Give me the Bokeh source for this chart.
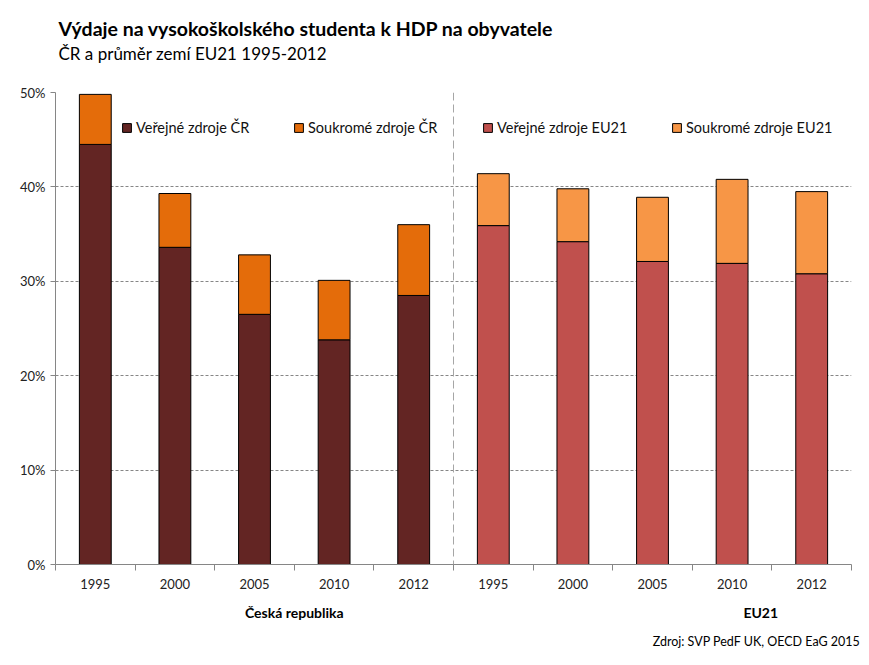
from bokeh.plotting import figure
from bokeh.models import (ColumnDataSource, Range1d, FixedTicker, PrintfTickFormatter,
                          Legend, LegendItem, Span, Title, LinearAxis)
from bokeh.embed import file_html
from bokeh.resources import INLINE

years = ["1995", "2000", "2005", "2010", "2012"]
cr_public = [44.5, 33.6, 26.5, 23.8, 28.5]
cr_private = [5.3, 5.7, 6.3, 6.3, 7.5]
eu_public = [35.9, 34.2, 32.1, 31.9, 30.8]
eu_private = [5.5, 5.6, 6.8, 8.9, 8.7]
groups = ["Česká republika", "EU21"]
group_pos = [3.0, 8.86]
legend_labels = ["Veřejné zdroje ČR", "Soukromé zdroje ČR", "Veřejné zdroje EU21", "Soukromé zdroje EU21"]
y_ticks = [0, 10, 20, 30, 40, 50]

FONT = "Lato"
n = len(years)
cr_x = [i + 0.5 for i in range(n)]
eu_x = [n + i + 0.5 for i in range(n)]

cr_src = ColumnDataSource(dict(x=cr_x, public=cr_public, private=cr_private))
eu_src = ColumnDataSource(dict(x=eu_x, public=eu_public, private=eu_private))

p = figure(width=861, height=657, output_backend="svg", toolbar_location=None,
           x_range=Range1d(0, 2 * n), y_range=Range1d(0, 50),
           min_border_left=55, min_border_right=10, min_border_top=92, min_border_bottom=93)
p.outline_line_color = None
p.background_fill_color = "white"

cr_r = p.vbar_stack(["public", "private"], x="x", width=0.4, source=cr_src,
                    color=["#632523", "#E46C0A"], line_color="black", line_width=1)
eu_r = p.vbar_stack(["public", "private"], x="x", width=0.4, source=eu_src,
                    color=["#C0504D", "#F79646"], line_color="black", line_width=1)
for r in cr_r + eu_r:
    r.glyph.line_color = "black"

# axes
p.xaxis.ticker = FixedTicker(ticks=cr_x + eu_x, minor_ticks=list(range(0, 2 * n + 1)))
p.xaxis.major_label_overrides = {x: y for x, y in zip(cr_x + eu_x, years + years)}
p.xaxis.major_tick_out = 0
p.xaxis.major_tick_in = 0
p.xaxis.minor_tick_out = 6
p.xaxis.minor_tick_in = 0
p.xaxis.minor_tick_line_color = "#868686"
p.xaxis.axis_line_color = "#868686"
p.xaxis.major_label_standoff = 8
p.xaxis.major_label_text_font = FONT
p.xaxis.major_label_text_font_size = "13px"
p.xaxis.major_label_text_color = "#222222"

p.yaxis.ticker = FixedTicker(ticks=y_ticks)
p.yaxis.formatter = PrintfTickFormatter(format="%d%%")
p.yaxis.major_tick_out = 5
p.yaxis.major_tick_in = 0
p.yaxis.minor_tick_line_color = None
p.yaxis.major_tick_line_color = "#868686"
p.yaxis.axis_line_color = "#868686"
p.yaxis.major_label_standoff = 5
p.yaxis.major_label_text_font = FONT
p.yaxis.major_label_text_font_size = "13px"
p.yaxis.major_label_text_color = "#222222"

# group labels as an extra axis below
gaxis = LinearAxis(ticker=FixedTicker(ticks=group_pos),
                   major_label_overrides={x: g for x, g in zip(group_pos, groups)},
                   axis_line_color=None, major_tick_line_color=None,
                   minor_tick_line_color=None, major_label_standoff=6,
                   major_label_text_font=FONT, major_label_text_font_size="14px",
                   major_label_text_font_style="bold", major_label_text_color="#000000")
p.add_layout(gaxis, "below")

p.xgrid.grid_line_color = None
p.ygrid.grid_line_color = "#868686"
p.ygrid.grid_line_dash = "3 2"

p.add_layout(Span(location=n, dimension="height", line_color="#A6A6A6",
                  line_dash="8 4", line_width=1))

# legends (one per item)
leg_x = [66, 238, 427, 616]
renderers = [cr_r[0], cr_r[1], eu_r[0], eu_r[1]]
for lx, lab, r in zip(leg_x, legend_labels, renderers):
    leg = Legend(items=[LegendItem(label=lab, renderers=[r])], location=(lx, 427),
                 orientation="horizontal", padding=0, margin=0, spacing=0,
                 glyph_width=11, glyph_height=11, label_standoff=4, label_height=20,
                 label_text_font=FONT, label_text_font_size="14.5px",
                 label_text_color="#111111",
                 background_fill_alpha=0, border_line_color=None)
    p.add_layout(leg)

# titles (spacer nearest the frame, then subtitle, then main title)
p.add_layout(Title(text=" ", standoff=15, text_font=FONT, text_font_size="10px"), "above")
p.add_layout(Title(text="ČR a průměr zemí EU21 1995-2012", align="left", offset=3,
                   standoff=0, text_font=FONT, text_font_size="17px",
                   text_font_style="normal", text_color="#000000"), "above")
p.add_layout(Title(text="Výdaje na vysokoškolského  studenta k HDP na obyvatele",
                   align="left", offset=3, standoff=2, text_font=FONT,
                   text_font_size="19.5px", text_font_style="bold",
                   text_color="#000000"), "above")
p.add_layout(Title(text="Zdroj: SVP PedF UK, OECD EaG 2015", align="right", offset=-9,
                   standoff=16, text_font=FONT, text_font_size="12.5px",
                   text_font_style="normal", text_color="#000000"), "below")

open("out.html", "w").write(file_html(p, INLINE))
